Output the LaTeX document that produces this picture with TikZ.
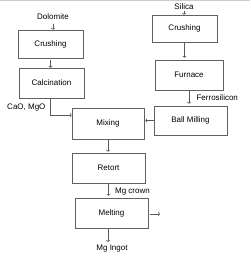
\documentclass[tikz,border=0pt]{standalone}
\usepackage{fontspec}
\setmainfont{Liberation Sans}
\usepackage{tikz}
\usetikzlibrary{arrows.meta}

\begin{document}
\begin{tikzpicture}[every node/.style={font=\fontsize{8}{9.5}\selectfont}, x=1pt, y=-1pt,
	stepbox/.style={draw=black!62, line width=0.55pt, inner sep=0pt},
	arr/.style={->, draw=black!65, line width=0.55pt, >={To[length=2pt,width=4pt]}}]
	\useasboundingbox (0,0) rectangle (250,262);
	\draw[black!20, line width=1.5pt] (0,0.75) -- (250,0.75);
	% left column
	\node (dolomite) at (53,17) {Dolomite};
	\node[stepbox, minimum width=65pt, minimum height=28pt] (crushA) at (50.5,44) {Crushing};
	\node[stepbox, minimum width=65pt, minimum height=30pt] (calc) at (51.5,83) {Calcination};
	\node[anchor=east] (cao) at (49,108) {CaO, MgO};
	% right column
	\node[inner sep=1pt] (silica) at (184,6.5) {Silica};
	\node[stepbox, minimum width=65pt, minimum height=27pt] (crushB) at (184.5,28.5) {Crushing};
	\node[stepbox, minimum width=68pt, minimum height=30pt] (furnace) at (189,75) {Furnace};
	\node[stepbox, minimum width=73pt, minimum height=29pt] (ball) at (190.5,120.5) {Ball Milling};
	% middle column
	\node[stepbox, minimum width=72pt, minimum height=31pt] (mix) at (108,123.5) {Mixing};
	\node[stepbox, minimum width=73pt, minimum height=30pt] (retort) at (108.5,168) {Retort};
	\node[stepbox, minimum width=73pt, minimum height=30pt] (melt) at (111.5,213) {Melting};
	\node (ingot) at (112,249) {Mg Ingot};
	% connectors
	\draw[arr] ([yshift=-1pt]dolomite.south) -- (crushA.north -| dolomite.south);
	\draw[arr] ([yshift=-2pt]crushA.south) -- (crushA.south |- calc.north);
	\draw[arr] (calc.south -| 50,0) |- ([yshift=8.5pt]mix.west);
	\draw[arr] (silica.south) -- (crushB.north -| silica.south);
	\draw[arr] (crushB.south) -- ([yshift=2pt]crushB.south |- furnace.north);
	\draw[arr] (furnace.south) -- ([yshift=2pt]furnace.south |- ball.north)
		node[midway, anchor=west, xshift=4pt, yshift=-1pt] (ferro) {Ferrosilicon};
	\draw[arr] (ball.west) -- ([xshift=1pt]ball.west -| mix.east);
	\draw[arr] (mix.south) -- ([yshift=1pt]mix.south |- retort.north);
	\draw[arr] (retort.south) -- ([yshift=2pt]retort.south |- melt.north)
		node[midway, anchor=west, xshift=3pt, yshift=-2pt] (crown) {Mg crown};
	\coordinate (out) at (160,214);
	\draw[arr] ([xshift=2pt]melt.east |- out) -- (out);
	\draw[arr] (melt.south -| mix.south) -- (ingot.north -| mix.south);
\end{tikzpicture}
\end{document}
